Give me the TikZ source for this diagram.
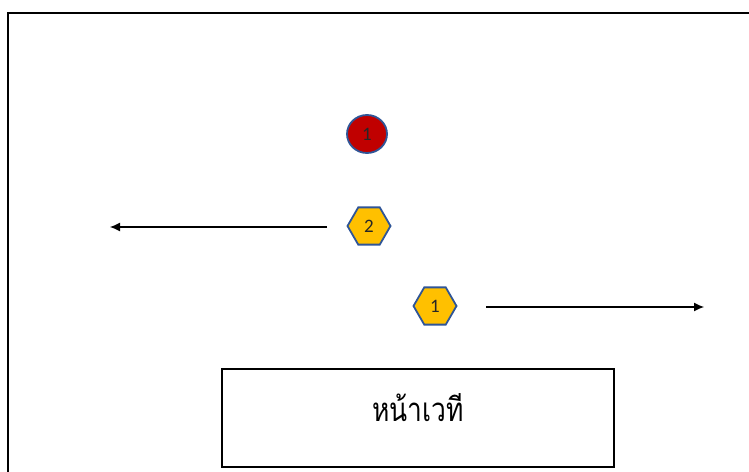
\documentclass[tikz,border=0pt]{standalone}
\usepackage{fontspec}
\newfontfamily\thaifont[Script=Thai,FakeStretch=0.8]{Loma}
\newfontfamily\numfont{Carlito}
\usetikzlibrary{arrows.meta,shapes.geometric,positioning}
\definecolor{ActorRed}{RGB}{192,0,0}
\definecolor{ActorGold}{RGB}{255,192,0}
\definecolor{EdgeBlue}{RGB}{47,85,151}
\definecolor{DigitGray}{RGB}{38,38,38}

\begin{document}
\begin{tikzpicture}[x=1pt,y=-1pt,>=Latex,
    actor/.style={draw=EdgeBlue,line width=1.8pt,inner sep=0pt,
      font=\numfont\fontsize{19}{19}\selectfont,text=DigitGray},
    hexa/.style={actor,regular polygon,regular polygon sides=6,
      minimum size=43pt,fill=ActorGold},
    lead/.style={actor,ellipse,minimum width=40pt,minimum height=38pt,fill=ActorRed},
    move/.style={->,line width=1.1pt,arrows={-Latex[length=10pt,width=9pt]}},
    stagebox/.style={draw,line width=2pt,minimum width=392pt,minimum height=98pt,inner sep=0pt}]
      \useasboundingbox (0,0) rectangle (749,471);
      \draw[line width=2.5pt] (8,13) rectangle (770,490);
      \node[lead] (lead1) at (367,134) {1};
      \node[hexa] (hexa2) at (369,226) {2};
      \node[hexa] (hexa1) at (435,306) {1};
      \coordinate (leftend) at (110,227);
      \coordinate (leftstart) at (327,227);
      \coordinate (rightstart) at (486,307);
      \coordinate (rightend) at (704,307);
      \draw[move] (leftstart) -- (leftend);
      \draw[move] (rightstart) -- (rightend);
      \node[stagebox] (stage) at (418,418) {};
      \node[font=\thaifont\fontsize{33}{33}\selectfont] (stagetext) at ([yshift=10pt]stage.center) {หน้าเวที};
    \end{tikzpicture}
\end{document}
